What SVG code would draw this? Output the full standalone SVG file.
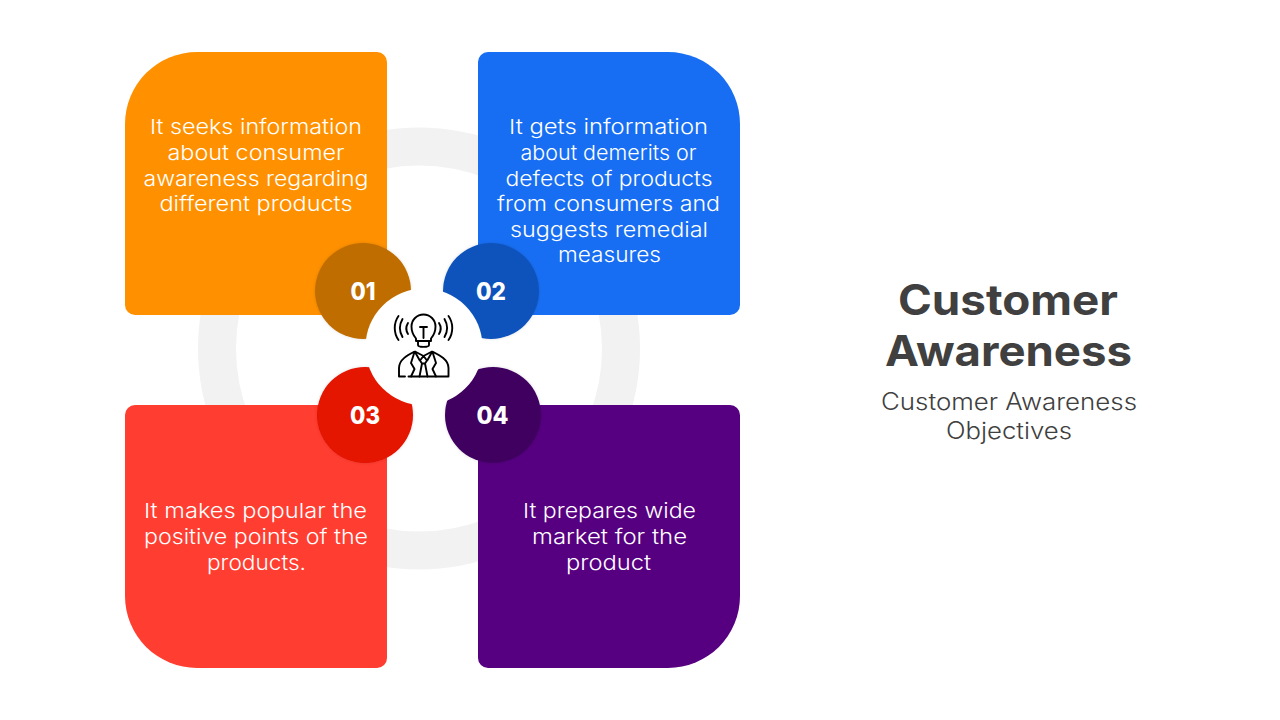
<svg xmlns="http://www.w3.org/2000/svg" width="1280" height="720" viewBox="0 0 1280 720">
<style>
text{font-family:"Inter","Noto Sans","Liberation Sans",sans-serif;text-anchor:middle}
.b{fill:#fff;font-size:20.5px;font-weight:300}
.n{fill:#fff;font-size:24px;font-weight:800}
.t{fill:#404040;font-size:42px;font-weight:700}
.s{fill:#404040;font-size:23.5px;font-weight:300}
.i{fill:none;stroke:#000;stroke-width:1.9;stroke-linecap:round;stroke-linejoin:round}
.d{filter:url(#h)}
</style>
<defs>
<filter id="h" x="-20%" y="-20%" width="140%" height="140%"><feDropShadow dx="0" dy="0" stdDeviation="1.5" flood-color="#000" flood-opacity="0.14"/></filter>
</defs>
<rect width="1280" height="720" fill="#fff"/>
<circle id="ring" cx="419" cy="348.5" r="202" fill="none" stroke="#f2f2f2" stroke-width="38"/>
<g id="connectors"></g>
<g id="card1">
<path d="M197 52H377a10 10 0 0 1 10 10V305a10 10 0 0 1-10 10H135a10 10 0 0 1-10-10V124A72 72 0 0 1 197 52Z" fill="#ff9100"/>
<text class="b" x="256" y="134" textLength="212" lengthAdjust="spacingAndGlyphs">It seeks information</text>
<text class="b" x="256" y="160" textLength="177" lengthAdjust="spacingAndGlyphs">about consumer</text>
<text class="b" x="256" y="186" textLength="225" lengthAdjust="spacingAndGlyphs">awareness regarding</text>
<text class="b" x="256" y="211" textLength="193" lengthAdjust="spacingAndGlyphs">different products</text>
</g>
<g id="card2">
<path d="M488 52H668A72 72 0 0 1 740 124V305a10 10 0 0 1-10 10H488a10 10 0 0 1-10-10V62a10 10 0 0 1 10-10Z" fill="#186ef2"/>
<text class="b" x="608.500" y="134" textLength="199" lengthAdjust="spacingAndGlyphs">It gets information</text>
<text class="b" x="608.500" y="160" textLength="176" lengthAdjust="spacingAndGlyphs">about demerits or</text>
<text class="b" x="609" y="186" textLength="207" lengthAdjust="spacingAndGlyphs">defects of products</text>
<text class="b" x="608.500" y="211" textLength="223" lengthAdjust="spacingAndGlyphs">from consumers and</text>
<text class="b" x="609" y="237" textLength="198" lengthAdjust="spacingAndGlyphs">suggests remedial</text>
<text class="b" x="609.500" y="262" textLength="103" lengthAdjust="spacingAndGlyphs">measures</text>
</g>
<g id="card3">
<path d="M135 405H377a10 10 0 0 1 10 10V658a10 10 0 0 1-10 10H197A72 72 0 0 1 125 596V415a10 10 0 0 1 10-10Z" fill="#ff3d30"/>
<text class="b" x="255.500" y="518" textLength="223" lengthAdjust="spacingAndGlyphs">It makes popular the</text>
<text class="b" x="256" y="544" textLength="224" lengthAdjust="spacingAndGlyphs">positive points of the</text>
<text class="b" x="256.500" y="570" textLength="99" lengthAdjust="spacingAndGlyphs">products.</text>
</g>
<g id="card4">
<path d="M488 405H730a10 10 0 0 1 10 10V596A72 72 0 0 1 668 668H488a10 10 0 0 1-10-10V415a10 10 0 0 1 10-10Z" fill="#560081"/>
<text class="b" x="609.500" y="518" textLength="173" lengthAdjust="spacingAndGlyphs">It prepares wide</text>
<text class="b" x="609.500" y="544" textLength="155" lengthAdjust="spacingAndGlyphs">market for the</text>
<text class="b" x="608.500" y="570" textLength="85" lengthAdjust="spacingAndGlyphs">product</text>
</g>
<g id="badge1"><circle class="d" cx="363" cy="291" r="48" fill="#c06d00"/></g>
<g id="badge2"><circle class="d" cx="491" cy="291" r="48" fill="#0d52bb"/></g>
<g id="badge3"><circle class="d" cx="365" cy="415" r="48" fill="#e51200"/></g>
<g id="badge4"><circle class="d" cx="493" cy="415" r="48" fill="#3f0060"/></g>
<g id="hub">
<circle cx="424" cy="347" r="58.500" fill="#fff"/>
<g class="i">
<path d="M416 338.500C413 335 411.500 331 411.500 326.500A12 12 0 0 1 435.500 326.500C435.500 331 434 335 431 338.500V341H416Z"/>
<path d="M418 341V345C418 347.500 429 347.500 429 345V341"/>
<path d="M423.500 338V327M420 327H427"/>
<path d="M398.500 316C393.500 323 393.500 333 398.500 340M402.500 319C399 325 399 331 402.500 337M408 323C405.500 327 405.500 330 408 334"/>
<path d="M448.500 316C453.500 323 453.500 333 448.500 340M444.500 319C448 325 448 331 444.500 337M439 323C441.500 327 441.500 330 439 334"/>
<path d="M405 376.500H399V368C399 359 409 354.500 415 351.500L423.500 356L432 351.500C438 354.500 448.500 359 448.500 368V376.500H408.500"/>
<path d="M414.500 352L411 363L414.500 369L411 376.500M432.500 352L436 363L432.500 369L436 376.500M423.500 356L420 360.500L422 363.500L419.500 376.500M423.500 356L427 360.500L425 363.500L427.500 376.500M422 363.500H425M415 352L419.500 360M432 352L427.500 360"/>
</g>
</g>
<g id="badgeText">
<text class="n" x="363" y="300" textLength="25" lengthAdjust="spacingAndGlyphs">01</text>
<text class="n" x="491" y="300" textLength="30" lengthAdjust="spacingAndGlyphs">02</text>
<text class="n" x="365" y="424" textLength="30" lengthAdjust="spacingAndGlyphs">03</text>
<text class="n" x="492.500" y="424" textLength="32" lengthAdjust="spacingAndGlyphs">04</text>
</g>
<g id="title">
<text class="t" x="1008" y="315" textLength="220" lengthAdjust="spacingAndGlyphs">Customer</text>
<text class="t" x="1008.500" y="366" textLength="247" lengthAdjust="spacingAndGlyphs">Awareness</text>
<text class="s" x="1009" y="410" textLength="256" lengthAdjust="spacingAndGlyphs">Customer Awareness</text>
<text class="s" x="1009" y="439" textLength="126" lengthAdjust="spacingAndGlyphs">Objectives</text>
</g>
</svg>
